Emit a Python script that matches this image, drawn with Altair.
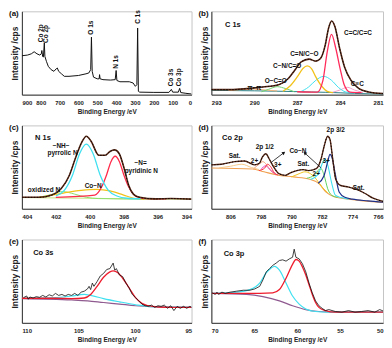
import altair as alt
import pandas as pd

FONT = "Liberation Sans"

# ---------------- (a) survey spectrum ----------------
a_ev = [900, 870, 850, 835, 820, 805, 797, 794, 790, 786, 781, 778, 770, 760, 745, 730, 718,
        712, 705, 690, 675, 650, 600, 560, 545, 535, 531, 527, 520, 500, 490, 488, 485, 470,
        430, 405, 400, 396, 380, 330, 310, 298, 290, 286, 282, 275, 200, 120, 107, 100, 70,
        63, 57, 30, 0]
a_int = [46.7, 47.5, 49, 51.5, 49, 47.5, 49, 53, 46, 45, 62, 46, 40, 34, 30, 28, 31,
         32, 28, 25, 22, 22, 23, 25, 26, 30, 69, 28, 21, 19, 19, 24, 19, 18,
         17.5, 18, 29, 17, 15.5, 15.5, 14, 10, 12, 80, 4, 3, 2.7, 2.7, 6.3, 3, 3,
         7.5, 2.5, 1.6, 0.8]
a_ticks = [900, 800, 700, 600, 500, 400, 300, 200, 100, 0]
a_lab = ["Co 2p", "Co 2p", "O 1s", "N 1s", "C 1s", "Co 3s", "Co 3p"]
a_lab_ev = [798, 771, 531, 399, 283, 109, 66]
a_lab_int = [63, 62, 72, 31, 85, 10, 10]

# ---------------- (b) C 1s ----------------
b_ticks = [293, 290, 287, 284, 281]
b_env_ev = [293, 291.65, 290.53, 289.41, 288.29, 287.62, 287.17, 286.72, 286.16, 285.71, 285.37,
            285.04, 284.81, 284.59, 284.36, 284.03, 283.69, 283.24, 282.68, 282.01, 281.0]
b_env_int = [6, 6, 7.2, 9.2, 12, 19.3, 29.3, 39.4, 42.6, 40.2, 43.4,
             59.4, 79.5, 88.4, 81.5, 55.4, 33.3, 17.3, 7.2, 3.2, 1.2]
b_red_ev = [287, 285.6, 285.2, 284.9, 284.6, 284.3, 284.0, 283.7, 283.3, 282.5]
b_red_int = [3.5, 3, 17.2, 51.4, 72.3, 55.4, 31.3, 11.2, 3, 2.4]
b_yel_ev = [288.0, 287.5, 287.0, 286.6, 286.3, 286.0, 285.7, 285.3, 284.9, 284.5]
b_yel_int = [4, 10.4, 21.3, 31.3, 34.5, 31.3, 21.3, 10.4, 4, 2.4]
b_cya_ev = [286.8, 286.2, 285.7, 285.15, 284.6, 284.1, 283.6, 283.0]
b_cya_int = [3.2, 9.2, 17.2, 22, 17.2, 8.4, 3.2, 2]
b_pnk_ev = [284.6, 284.0, 283.5, 283.0, 282.4]
b_pnk_int = [2.4, 5.6, 8.8, 5.6, 2.4]
b_grn_ev = [289.5, 289.0, 288.4, 287.8, 287.2]
b_grn_int = [3.5, 6.4, 9.6, 7.2, 3.5]
b_org_ev = [291.8, 290.8, 290.0, 289.2, 288.4]
b_org_int = [5, 6.2, 6.6, 5.6, 4.4]
b_bas_ev = [293, 290, 288, 286, 285, 284, 283, 281]
b_bas_int = [5.2, 4.6, 4, 3.2, 2.8, 2.2, 1.5, 0.5]
b_lab = ["C=C/C=C", "C=N/C\u2212O", "C\u2212N/C=O", "O\u2212C=O", "\u03c0\u2212\u03c0", "C\u2261C"]
b_lab_ev = [282.75, 286.5, 287.7, 288.5, 290.0, 282.8]
b_lab_int = [73.5, 48.2, 34.5, 16.5, 8.4, 13.3]

# ---------------- (c) N 1s ----------------
c_ticks = [404, 402, 400, 398, 396, 394]
c_env_ev = [404, 402.98, 402.24, 401.69, 401.22, 400.85, 400.48, 400.2, 399.93, 399.46, 399.09,
            398.81, 398.54, 398.26, 397.98, 397.7, 397.43, 397.06, 396.13, 395.2, 394]
c_env_int = [13.7, 13.7, 16.4, 24, 39.3, 60.3, 79.4, 87, 81.3, 64.1, 64.1,
             68.7, 70.6, 66, 48.9, 27.9, 17.6, 13.7, 11.8, 12.2, 11.5]
c_cya_ev = [402, 401.5, 401.0, 400.6, 400.2, 399.8, 399.4, 398.9, 398.4, 397.8, 397]
c_cya_int = [15.3, 22.1, 41.2, 66, 77.5, 66, 41.2, 22.1, 15.3, 12.6, 12]
c_red_ev = [402, 399.7, 399.3, 399.0, 398.75, 398.5, 398.25, 398.0, 397.7, 397.3, 396.8, 395.5]
c_red_int = [13.7, 16.4, 26, 41.2, 56.5, 63, 56.5, 41.2, 26, 15.3, 12.2, 11.8]
c_yel_ev = [403, 402.5, 401.5, 400.5, 399.6, 398.8, 398.0, 397.4, 396.8]
c_yel_int = [13.7, 15.3, 19.1, 22.1, 23.3, 21.4, 16.4, 12.6, 11.5]
c_grn_ev = [403, 402.3, 401.6, 400.9, 400.2, 399.5, 398, 396]
c_grn_int = [13.7, 16.8, 20.6, 17.6, 13.7, 12.2, 11.8, 11.5]
c_bas_ev = [404, 400, 398, 394]
c_bas_int = [13.4, 12.6, 11.9, 11.5]
c_lab = ["\u2212NH\u2212", "pyrrolic N", "\u2212N=", "pyridinic N", "Co\u2212N", "oxidized N"]
c_lab_ev = [401.69, 401.6, 397.0, 396.96, 399.8, 402.7]
c_lab_int = [74.8, 67.2, 54.6, 45.8, 26.7, 22.1]

# ---------------- (d) Co 2p ----------------
d_ticks = [806, 798, 790, 782, 774, 766]
d_env_ev = [811, 808.3, 804.9, 802.3, 799.7, 798.4, 797.6, 796.7, 795.9, 794.6, 793.3, 791.6,
            790.3, 788.6, 786.9, 785.6, 783.5, 782.2, 781.4, 780.5, 779.9, 779.2, 778.4, 777.1,
            775.0, 772.8, 770.7, 768.6, 766]
d_env_int = [52.7, 53.4, 56.5, 57.3, 52.7, 54.6, 62.2, 66, 60.3, 49.6, 42, 40.1,
             43.1, 45.8, 46.9, 45.8, 48.1, 60.3, 75.6, 87, 83.2, 60.3, 35.5, 27.9,
             26, 22.9, 18.3, 12.6, 8.8]
d_bg_ev = [811, 800.2, 797.2, 793.8, 789.5, 785.2, 782.7, 781, 778.8, 775, 766]
d_bg_int = [48.9, 47.7, 44.3, 40.5, 38.2, 35.5, 29.8, 20.2, 14.5, 11.5, 7.6]
d_blu_ev = [783.0, 781.5, 780.5, 779.9, 779.3, 778.5, 777.5, 776.0, 774, 770, 766]
d_blu_int = [30.5, 39.3, 56.5, 65.3, 60.3, 41.2, 20.2, 13.7, 11.5, 9.5, 8]
d_cya_ev = [785, 783, 781.9, 781.2, 780.5, 779.5, 778.5, 777, 775]
d_cya_int = [35.1, 41.2, 54.6, 59.5, 52.7, 31.7, 16.4, 13.4, 11.5]
d_grn_ev = [786, 784, 782.8, 782.2, 781.4, 780.5, 779.5, 778]
d_grn_int = [36.6, 40.5, 47, 47.7, 39.3, 24, 16.4, 13.7]
d_yel_ev = [790, 788, 786.5, 785, 783.5, 782, 780.5]
d_yel_int = [38.2, 42, 44.3, 42, 35.5, 26, 19.1]
d_red_ev = [798.5, 797, 796.3, 795.5, 794.5, 793.5]
d_red_int = [45.8, 48.9, 53.4, 50.8, 43.1, 40.5]
d_mag_ev = [798, 796.8, 796, 795, 794]
d_mag_int = [47, 51.5, 48.9, 44.3, 41.2]
d_pch_ev = [800, 798.5, 797.5, 796.5, 795.5, 794.5]
d_pch_int = [47.7, 53.4, 56.5, 52.7, 45.8, 42]
d_sat_ev = [809, 806, 803, 800.5, 798.5]
d_sat_int = [49, 51, 53.4, 49.5, 47]
d_lab = ["2p 3/2", "2p 1/2", "Co\u2212N", "Sat.", "2+", "3+", "Sat.", "2+", "3+", "Sat."]
d_lab_ev = [778.4, 797, 788.3, 804.9, 799.7, 793.6, 786.9, 783.5, 780.9, 772.4]
d_lab_int = [94.7, 73.7, 68.7, 63, 57.3, 52.7, 53.4, 41.2, 57.6, 24.8]
d_arr_ev = [795.3, 782.2]
d_arr_int = [55.7, 48.9]
d_arr_ev2 = [792.0, 786.5]
d_arr_int2 = [67.2, 66.8]
d_arr_ang = [52, 313]

# ---------------- (e) Co 3s ----------------
e_ticks = [110, 105, 100, 95]
e_dat_ev = [109.86, 109.58, 109.43, 109.29, 109.01, 108.73, 108.44, 108.16, 107.88, 107.59,
            107.31, 107.03, 106.75, 106.46, 106.18, 105.9, 105.61, 105.33, 105.05, 104.76,
            104.48, 104.2, 104.06, 103.92, 103.77, 103.63, 103.35, 103.07, 102.78, 102.5,
            102.22, 101.93, 101.79, 101.65, 101.37, 101.09, 100.8, 100.52, 100.24, 99.95,
            99.67, 99.39, 99.1, 98.82, 98.54, 98.26, 97.97, 97.69, 97.41, 97.12,
            96.84, 96.56, 96.27, 95.99, 95.71, 95.43, 95.14, 95.0]
e_dat_int = [30.2, 32.2, 28.3, 31, 29.8, 31.4, 30.6, 32.9, 31, 33.7,
             32.2, 35.3, 32.9, 34.1, 32.2, 34.1, 32.9, 35.3, 32.9, 36.8,
             38, 40.7, 43.8, 39.9, 47.7, 43.8, 49.6, 56.2, 59.3, 64,
             65.1, 71.7, 63.2, 65.1, 57.4, 55.4, 47.7, 41.9, 34.1, 30.2,
             26.4, 22.5, 20.5, 19.8, 21.3, 18.6, 20.5, 19.8, 21.3, 17.4,
             20.5, 14.7, 19.8, 17.4, 19.8, 17.4, 19.8, 18.6]
e_red_ev = [110, 108.44, 107.03, 105.61, 104.48, 103.92, 103.35, 102.78, 102.22, 101.93,
            101.51, 101.09, 100.52, 99.95, 99.39, 98.82, 97.97, 96.56, 95]
e_red_int = [29.5, 29.5, 29.5, 29.1, 29.8, 34.1, 43.8, 54.7, 61.2, 62.4,
             60.1, 53.5, 41.9, 30.2, 23.3, 20.5, 19, 18.6, 18.6]
e_cya_ev = [110, 107.03, 105.61, 104.48, 103.92, 102.78, 101.37, 99.95, 98.54, 95]
e_cya_int = [29.5, 30.2, 32.2, 34.1, 32.9, 29.1, 25.2, 21.7, 19.4, 18.6]
e_pur_ev = [110, 105.61, 104.2, 102.78, 101.37, 99.95, 98.54, 95]
e_pur_int = [29.1, 27.5, 26.4, 24.4, 22.5, 20.5, 19.4, 18.6]

# ---------------- (f) Co 3p ----------------
f_ticks = [70, 65, 60, 55, 50]
f_dat_ev = [69.92, 69.54, 69.35, 69.16, 68.77, 68.39, 67.82, 67.05, 66.28, 65.52, 64.94,
            64.37, 63.99, 63.6, 63.22, 62.84, 62.45, 62.07, 61.69, 61.3, 60.92, 60.54,
            60.35, 60.15, 59.77, 59.39, 59.0, 58.62, 58.24, 57.86, 57.47, 57.09, 56.71,
            56.32, 55.56, 54.79, 54.02, 53.26, 52.49, 51.73, 50.96, 50.39, 50.0]
f_dat_int = [36, 34.1, 36.8, 34.1, 36.8, 35.3, 36.8, 38, 39.1, 39.1, 40.7,
             43.8, 51.6, 61.2, 65.1, 69, 71.7, 74.8, 75.6, 74, 76.7, 78.7,
             88.4, 78.7, 76.7, 70.9, 61.2, 47.7, 36, 26.4, 20.5, 17.4, 14.7,
             15.9, 13.6, 12.8, 14.7, 12.8, 13.6, 14.7, 12.8, 15.9, 14.3]
f_red_ev = [69.92, 65.9, 62.84, 62.07, 61.3, 60.54, 60.15, 59.77, 59.39, 59.0, 58.62,
            58.24, 57.86, 57.47, 56.71, 55.56, 50]
f_red_int = [35.3, 35.3, 36, 39.9, 53.5, 70.2, 76, 74, 67.1, 57.4, 45.7,
             34.1, 24.4, 18.6, 14.7, 12.8, 12.8]
f_cya_ev = [69.92, 67.05, 65.52, 64.37, 63.6, 63.03, 62.64, 62.07, 61.3, 60.54, 59.77,
            59.0, 57.86, 56.32, 50]
f_cya_int = [35.3, 36.8, 39.9, 47.7, 60.1, 65.9, 67.8, 63.2, 47.7, 32.2, 22.5,
             16.7, 13.6, 12.8, 12.8]
f_pur_ev = [69.92, 65.9, 63.99, 62.07, 60.54, 59.0, 57.47, 55.56, 50]
f_pur_int = [35.3, 34.1, 31.4, 26.4, 20.5, 15.9, 13.6, 12.8, 12.8]

panel_letters = ["(a)", "(b)", "(c)", "(d)", "(e)", "(f)"]
panel_titles = ["", "C 1s", "N 1s", "Co 2p", "Co 3s", "Co 3p"]
panel_title_ev = [0, 291.5, 402.76, 805.5, 108.1, 67.36]
panel_title_int = [0, 83.5, 85.1, 85.1, 83.3, 82.6]

W_L, W_R, H = 171, 173, 84


def x_axis(ticks):
    return alt.Axis(values=ticks, title="Binding Energy /eV", format="d", labelOverlap=False)


def enc(dom, ticks, field="x", yfield="y"):
    x = alt.X(f"{field}:Q", scale=alt.Scale(domain=dom, reverse=True, nice=False, zero=False),
              axis=x_axis(ticks))
    y = alt.Y(f"{yfield}:Q", scale=alt.Scale(domain=[0, 100], nice=False, zero=False),
              axis=alt.Axis(labels=False, ticks=False, title="Intensity /cps"))
    return x, y


def curve(xs, ys, color, width, dom, ticks, dash=None, interp="monotone", opacity=1.0):
    df = pd.DataFrame({"x": xs, "y": ys, "i": list(range(len(xs)))})
    kw = dict(color=color, strokeWidth=width, interpolate=interp, opacity=opacity, clip=True)
    if dash:
        kw["strokeDash"] = dash
    x, y = enc(dom, ticks)
    return alt.Chart(df).mark_line(**kw).encode(x=x, y=y, order="i:Q")


def texts(labels, xs, ys, dom, ticks, size=6.5, angle=None, align="center"):
    df = pd.DataFrame({"x": xs, "y": ys, "t": labels})
    kw = dict(font=FONT, fontWeight="bold", fontSize=size, color="#111", align=align,
              baseline="middle")
    if angle is not None:
        kw["angle"] = angle
    x, y = enc(dom, ticks)
    return alt.Chart(df).mark_text(**kw).encode(x=x, y=y, text="t:N")


def letter(t):
    df = pd.DataFrame({"t": [t]})
    return alt.Chart(df).mark_text(font=FONT, fontWeight="bold", fontSize=8, align="left",
                                   baseline="middle", color="#111").encode(
        x=alt.value(-13), y=alt.value(3), text="t:N")


def title_text(i, dom, ticks):
    return texts([panel_titles[i]], [panel_title_ev[i]], [panel_title_int[i]], dom, ticks,
                 size=7.5)


BROWN = "#5b2a18"

# (a)
dom_a = [0, 900]
pa = alt.layer(
    curve(a_ev, a_int, "#111", 1.0, dom_a, a_ticks, interp="linear"),
    texts(a_lab, a_lab_ev, a_lab_int, dom_a, a_ticks, size=6.5, angle=270, align="left"),
    letter("(a)"),
).properties(width=W_L, height=H)

# (b)
dom_b = [281, 293]
pb = alt.layer(
    curve(b_bas_ev, b_bas_int, "#2b7f86", 1.0, dom_b, b_ticks),
    curve(b_org_ev, b_org_int, "#f2b37a", 1.0, dom_b, b_ticks),
    curve(b_grn_ev, b_grn_int, "#6fd36f", 1.0, dom_b, b_ticks),
    curve(b_pnk_ev, b_pnk_int, "#f2a0c8", 1.0, dom_b, b_ticks),
    curve(b_cya_ev, b_cya_int, "#3fe0f0", 1.0, dom_b, b_ticks),
    curve(b_yel_ev, b_yel_int, "#f2c21b", 1.3, dom_b, b_ticks),
    curve(b_red_ev, b_red_int, "#ff2b5a", 1.3, dom_b, b_ticks),
    curve(b_env_ev, b_env_int, BROWN, 1.6, dom_b, b_ticks),
    curve(b_env_ev, b_env_int, "#000", 0.8, dom_b, b_ticks, dash=[1.5, 1.5]),
    texts(b_lab, b_lab_ev, b_lab_int, dom_b, b_ticks),
    title_text(1, dom_b, b_ticks),
    letter("(b)"),
).properties(width=W_R, height=H)

# (c)
dom_c = [394, 404]
pc = alt.layer(
    curve(c_bas_ev, c_bas_int, "#c6e07a", 1.0, dom_c, c_ticks),
    curve(c_grn_ev, c_grn_int, "#8be06b", 1.0, dom_c, c_ticks),
    curve(c_yel_ev, c_yel_int, "#f2c21b", 1.2, dom_c, c_ticks),
    curve(c_red_ev, c_red_int, "#ff2b4a", 1.3, dom_c, c_ticks),
    curve(c_cya_ev, c_cya_int, "#3fe0f0", 1.3, dom_c, c_ticks),
    curve(c_env_ev, c_env_int, BROWN, 1.6, dom_c, c_ticks),
    curve(c_env_ev, c_env_int, "#000", 0.8, dom_c, c_ticks, dash=[1.5, 1.5]),
    texts(c_lab, c_lab_ev, c_lab_int, dom_c, c_ticks),
    title_text(2, dom_c, c_ticks),
    letter("(c)"),
).properties(width=W_L, height=H)

# (d)
dom_d = [766, 811]
arr_df = pd.DataFrame({"x": d_arr_ev, "y": d_arr_int, "x2": d_arr_ev2, "y2": d_arr_int2,
                       "a": d_arr_ang})
xd, yd = enc(dom_d, d_ticks)
arrows = alt.Chart(arr_df).mark_rule(color="#111", strokeWidth=0.8).encode(
    x=xd, y=yd, x2="x2:Q", y2="y2:Q")
xh, yh = enc(dom_d, d_ticks, field="x2", yfield="y2")
heads = alt.Chart(arr_df).mark_point(shape="triangle-up", filled=True, color="#111",
                                     size=14, opacity=1).encode(
    x=xh, y=yh, angle=alt.Angle("a:Q", scale=None))
pd_ = alt.layer(
    curve(d_bg_ev, d_bg_int, "#f0a050", 1.1, dom_d, d_ticks),
    curve(d_sat_ev, d_sat_int, "#f7c98a", 1.0, dom_d, d_ticks),
    curve(d_pch_ev, d_pch_int, "#f5a37a", 1.0, dom_d, d_ticks),
    curve(d_mag_ev, d_mag_int, "#e040c0", 1.0, dom_d, d_ticks),
    curve(d_red_ev, d_red_int, "#ff2b3a", 1.0, dom_d, d_ticks),
    curve(d_yel_ev, d_yel_int, "#f2c21b", 1.0, dom_d, d_ticks),
    curve(d_grn_ev, d_grn_int, "#5fd35f", 1.0, dom_d, d_ticks),
    curve(d_cya_ev, d_cya_int, "#3fe0f0", 1.1, dom_d, d_ticks),
    curve(d_blu_ev, d_blu_int, "#1c2f8a", 1.2, dom_d, d_ticks),
    curve(d_env_ev, d_env_int, BROWN, 1.4, dom_d, d_ticks),
    curve(d_env_ev, d_env_int, "#000", 0.9, dom_d, d_ticks, dash=[1.2, 1.8]),
    arrows, heads,
    texts(d_lab, d_lab_ev, d_lab_int, dom_d, d_ticks),
    title_text(3, dom_d, d_ticks),
    letter("(d)"),
).properties(width=W_R, height=H)

# (e)
dom_e = [95, 110]
pe = alt.layer(
    curve(e_pur_ev, e_pur_int, "#8f5a8f", 1.2, dom_e, e_ticks),
    curve(e_cya_ev, e_cya_int, "#3fe0f0", 1.2, dom_e, e_ticks),
    curve(e_red_ev, e_red_int, "#ee1c2c", 1.3, dom_e, e_ticks),
    curve(e_dat_ev, e_dat_int, "#111", 0.8, dom_e, e_ticks, interp="linear"),
    title_text(4, dom_e, e_ticks),
    letter("(e)"),
).properties(width=W_L, height=H)

# (f)
dom_f = [50, 70]
pf = alt.layer(
    curve(f_pur_ev, f_pur_int, "#8f5a8f", 1.2, dom_f, f_ticks),
    curve(f_cya_ev, f_cya_int, "#3fe0f0", 1.2, dom_f, f_ticks),
    curve(f_red_ev, f_red_int, "#ee1c2c", 1.3, dom_f, f_ticks),
    curve(f_dat_ev, f_dat_int, "#111", 0.8, dom_f, f_ticks, interp="linear"),
    title_text(5, dom_f, f_ticks),
    letter("(f)"),
).properties(width=W_R, height=H)

chart = alt.concat(pa, pb, pc, pd_, pe, pf, columns=2,
                   spacing={"row": 31, "column": 20}, bounds="flush").properties(
    padding=0
).configure_view(stroke="#c4c4c4", strokeWidth=1).configure_axis(
    grid=False, domainColor="#333", domainWidth=1, labelFont=FONT, labelFontWeight="bold",
    labelFontSize=6, labelColor="#222", labelPadding=5, titleFont=FONT,
    titleFontWeight="bold", titleFontSize=6.5, titleColor="#222", titlePadding=3,
    ticks=False
).configure_axisY(titleFontSize=8.5, titlePadding=2)

chart.save("out.html", embed_options={"renderer": "svg", "actions": False})
